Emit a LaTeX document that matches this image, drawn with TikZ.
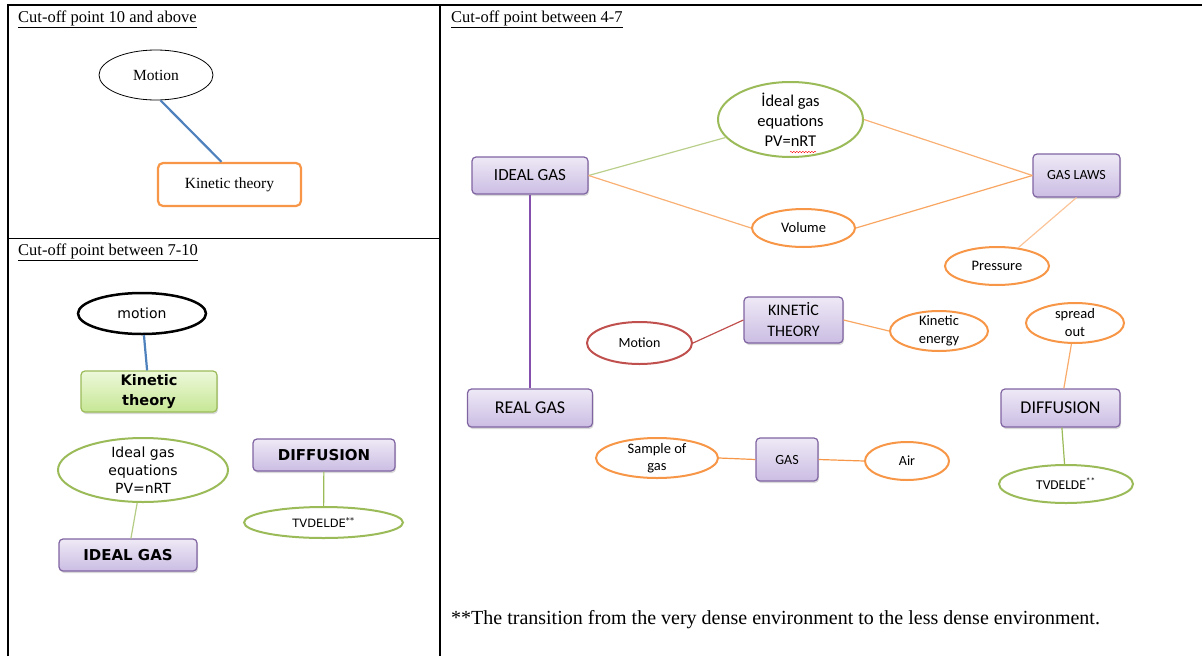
\documentclass[tikz,border=0pt]{standalone}
\usepackage{fontspec}
\setmainfont{Liberation Serif}
\newfontfamily\calib{Carlito}
\newfontfamily\verd{DejaVu Sans}
\usepackage{xcolor}
\usetikzlibrary{positioning,%
  shapes.geometric,%
  shadows,%
  decorations.pathmorphing
}

\definecolor{mapblue}{HTML}{4F81BD}
\definecolor{mapgreen}{HTML}{9BBB59}
\definecolor{maporange}{HTML}{F79646}
\definecolor{mapred}{HTML}{C0504D}
\definecolor{mappurple}{HTML}{8064A2}
\definecolor{linepurple}{HTML}{7030A0}
\definecolor{boxtop}{HTML}{EEE9F6}
\definecolor{boxbottom}{HTML}{CBBDE3}
\definecolor{limetop}{HTML}{EDF8DA}
\definecolor{limebottom}{HTML}{C6E795}

\begin{document}
\begin{tikzpicture}[x=1pt,y=-1pt,
    oval/.style={ellipse,draw,inner xsep=0pt,inner ysep=-6pt,align=center,line width=2pt},
    pbox/.style={rectangle,rounded corners=4pt,draw=mappurple,line width=1.2pt,
      top color=boxtop,bottom color=boxbottom,align=center,
      drop shadow={opacity=0.3,shadow xshift=1pt,shadow yshift=-2pt}},
    head/.style={anchor=base west,inner sep=0pt,font=\fontsize{16.5}{19}\selectfont},
    link/.style={line width=1.2pt}
  ]
  \useasboundingbox (0,0) rectangle (1202,656);

  % table
  \draw [line width=1.2pt] (8,656) -- (8,5) -- (1202,5);
  \draw [line width=1.2pt] (440,5) -- (440,656);
  \draw [line width=1.2pt] (8,238.5) -- (440,238.5);

  \node [head] (h1) at (18,22) {\underline{Cut-off point 10 and above}};
  \node [head] (h2) at (18,255) {\underline{Cut-off point between 7-10}};
  \node [head] (h3) at (451,22) {\underline{Cut-off point between 4-7}};

  % cut-off 10 and above
  \node [oval,draw=black,line width=0.8pt,minimum width=114pt,minimum height=50pt,
    font=\fontsize{15.5}{18}\selectfont] (motA) at (156,75) {Motion};
  \node [rectangle,rounded corners=5pt,draw=maporange,line width=2.2pt,
    minimum width=143pt,minimum height=43pt,font=\fontsize{15.5}{18}\selectfont]
    (kinA) at (229.5,184.5) {Kinetic theory};
  \draw [mapblue,line width=2.2pt] (motA.-80) -- ([xshift=-8pt]kinA.north);

  % cut-off 7-10
  \node [oval,draw=black,line width=2.5pt,minimum width=128pt,minimum height=41pt,
    font=\verd\fontsize{14}{17}\selectfont] (motB) at (142,313.5) {motion};
  \node [rectangle,rounded corners=4pt,draw=mapgreen,line width=1.2pt,
    top color=limetop,bottom color=limebottom,align=center,
    drop shadow={opacity=0.3,shadow xshift=1pt,shadow yshift=-2pt},
    minimum width=136pt,minimum height=41pt,
    font=\verd\bfseries\fontsize{14.5}{20}\selectfont] (kinB) at (149,391.5) {Kinetic\\theory};
  \draw [mapblue,line width=2.2pt] (motB) -- (kinB);

  \node [oval,draw=mapgreen,minimum width=170pt,minimum height=64pt,
    font=\verd\fontsize{14}{18}\selectfont] (idB) at (143,470) {Ideal gas\\equations\\PV=nRT};
  \node [pbox,minimum width=138pt,minimum height=32pt,
    font=\verd\bfseries\fontsize{15}{18}\selectfont] (igB) at (128,555) {IDEAL GAS};
  \draw [link,mapgreen!75] (idB) -- (igB);

  \node [pbox,minimum width=142pt,minimum height=32pt,
    font=\verd\bfseries\fontsize{15}{18}\selectfont] (difB) at (324,455) {DIFFUSION};
  \node [oval,draw=mapgreen,minimum width=159pt,minimum height=31pt,
    font=\verd\fontsize{11.5}{14}\selectfont] (tvB) at (323.5,522.5) {TVDELDE\textsuperscript{**}};
  \draw [link,mapgreen] (difB) -- (tvB);

  % cut-off 4-7
  \node [pbox,minimum width=116pt,minimum height=37pt,
    font=\calib\fontsize{17}{20}\selectfont] (ig) at (530,175.5) {IDEAL GAS};
  \node [oval,draw=mapgreen,minimum width=145pt,minimum height=75pt,
    font=\calib\fontsize{16.5}{20}\selectfont] (ige) at (790.5,119.5) {İdeal gas\\equations\\PV=nRT};
  \draw [red,decorate,decoration={snake,amplitude=0.7pt,segment length=3pt}] (790,152) -- (816,152);
  \node [oval,draw=maporange,minimum width=103pt,minimum height=38pt,
    font=\calib\fontsize{14.5}{17}\selectfont] (vol) at (803.5,228) {Volume};
  \node [pbox,minimum width=87pt,minimum height=43pt,
    font=\calib\fontsize{14}{17}\selectfont] (gl) at (1076.5,175.5) {GAS LAWS};
  \node [oval,draw=maporange,minimum width=104pt,minimum height=38pt,
    font=\calib\fontsize{14.5}{17}\selectfont] (pr) at (997,266) {Pressure};

  \draw [link,mapgreen!70] (ig.east) -- (ige);
  \draw [link,maporange!75] (ig.east) -- (vol.west);
  \draw [link,maporange!75] (ige.east) -- (gl.west);
  \draw [link,maporange!85] (vol.east) -- (gl.west);
  \draw [link,maporange!55] (gl.south) -- (pr);

  \node [pbox,minimum width=125pt,minimum height=38pt,
    font=\calib\fontsize{18}{21}\selectfont] (rg) at (530,408) {REAL GAS};
  \draw [linepurple!85,line width=2pt] (ig.south) -- (rg.north);

  \node [oval,draw=mapred,minimum width=105pt,minimum height=42pt,
    font=\calib\fontsize{14}{17}\selectfont] (mo) at (639.5,343) {Motion};
  \node [pbox,minimum width=99pt,minimum height=46pt,
    font=\calib\fontsize{16}{21}\selectfont] (kt) at (793.5,320) {KINETİC\\THEORY};
  \node [oval,draw=maporange,minimum width=98pt,minimum height=40pt,
    font=\calib\fontsize{14.5}{18}\selectfont] (ke) at (939,331) {Kinetic\\energy};
  \draw [link,mapred] (mo.east) -- (kt.west);
  \draw [link,maporange!85] (kt.east) -- (ke.west);

  \node [oval,draw=maporange,minimum width=122pt,minimum height=40pt,
    font=\calib\fontsize{14.5}{17}\selectfont] (sg) at (657,458) {Sample of\\gas};
  \node [pbox,minimum width=62pt,minimum height=43pt,
    font=\calib\fontsize{14}{17}\selectfont] (gas) at (787,459.5) {GAS};
  \node [oval,draw=maporange,minimum width=84pt,minimum height=38pt,
    font=\calib\fontsize{14}{17}\selectfont] (air) at (907,461) {Air};
  \draw [link,maporange] (sg.east) -- (gas.west);
  \draw [link,maporange] (gas.east) -- (air.west);

  \node [oval,draw=maporange,minimum width=98pt,minimum height=40pt,
    font=\calib\fontsize{14.5}{18}\selectfont] (so) at (1075,323) {spread\\out};
  \node [pbox,minimum width=119pt,minimum height=38pt,
    font=\calib\fontsize{18}{21}\selectfont] (dif) at (1060.5,408) {DIFFUSION};
  \node [oval,draw=mapgreen,minimum width=134pt,minimum height=38pt,
    font=\calib\fontsize{13.5}{16}\selectfont] (tv) at (1066,484) {TVDELDE\textsuperscript{**}};
  \draw [link,maporange!80] (so) -- (dif);
  \draw [link,mapgreen] (dif) -- (tv);

  \node [anchor=base west,inner sep=0pt,font=\fontsize{20}{23}\selectfont] (note) at (451,624)
    {**The transition from the very dense environment to the less dense environment.};
\end{tikzpicture}
\end{document}
